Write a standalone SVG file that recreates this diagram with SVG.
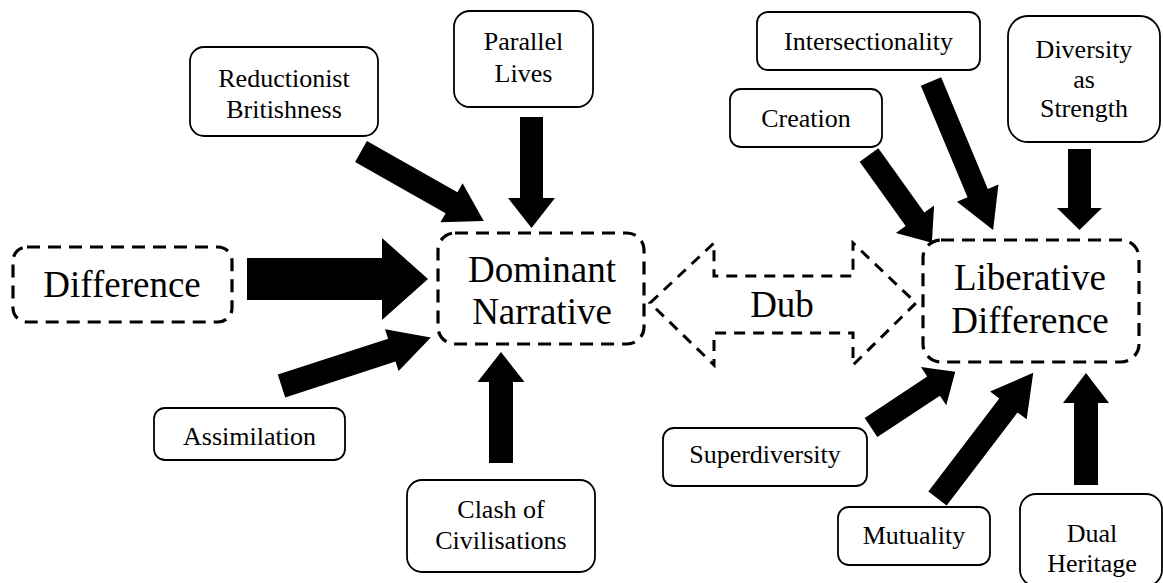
<svg xmlns="http://www.w3.org/2000/svg" width="1163" height="583" viewBox="0 0 1163 583">
<style>
.big{fill:#fff;stroke:#000;stroke-width:3.2;stroke-dasharray:13 8}
.box{fill:#fff;stroke:#000;stroke-width:1.8}
text{font-family:'Liberation Serif',Tinos,'Times New Roman',Times,'DejaVu Serif',serif;fill:#000;text-anchor:middle}
.tb{font-size:37px}
.ts{font-size:26px}
.arr{fill:#000;stroke:none}
.dub{fill:#fff;stroke:#000;stroke-width:3;stroke-dasharray:11 8}
</style>
<rect width="1163" height="583" fill="#fff"/>
<g id="connectors">
<path class="arr" d="M0,-21 H135 V-41 L181,0 L135,41 V21 H0 Z" transform="translate(247,279)"/>
<path class="arr" d="M0,-12 H116 V-22 L157,0 L116,22 V12 H0 Z" transform="translate(281.5,386) rotate(-18)"/>
<polygon class="arr" points="489,463 489,382 477.5,382 501,352 524.5,382 513,382 513,463"/>
<polygon class="arr" points="520,117 543,117 543,198 555,198 531.5,228 508,198 520,198"/>
<path class="arr" d="M0,-12 H104 V-22.5 L141,0 L104,22.5 V12 H0 Z" transform="translate(361,151.5) rotate(29.5)"/>
<path class="arr" d="M0,-11.5 H79 V-23.5 L108,0 L79,23.5 V11.5 H0 Z" transform="translate(869,155) rotate(54.4)"/>
<path class="arr" d="M0,-11 H121 V-22.5 L161,0 L121,22.5 V11 H0 Z" transform="translate(931,81.5) rotate(67.3)"/>
<polygon class="arr" points="1068,149 1091,149 1091,208 1102,208 1079.5,230 1057,208 1068,208"/>
<path class="arr" d="M0,-11.5 H75 V-23 L101,0 L75,23 V11.5 H0 Z" transform="translate(871,427.5) rotate(-33.45)"/>
<path class="arr" d="M0,-11.5 H117 V-23 L158,0 L117,23 V11.5 H0 Z" transform="translate(937.5,498.5) rotate(-52.7)"/>
<polygon class="arr" points="1074,485 1074,403 1063,403 1086,373 1109,403 1098,403 1098,485"/>
</g>
<g id="dub">
<polygon class="dub" points="650,303 714,243 714,276 853,276 853,243 916,303 853,365 853,333 714,333 714,365"/>
<text class="tb" x="782" y="317">Dub</text>
</g>
<g id="difference">
<rect class="big" x="13" y="247" width="219" height="75" rx="14"/>
<text class="tb" x="122" y="297">Difference</text>
</g>
<g id="dominant">
<rect class="big" x="438" y="233" width="206" height="111" rx="17"/>
<text class="tb" x="542" y="282">Dominant</text>
<text class="tb" x="542" y="324">Narrative</text>
</g>
<g id="liberative">
<rect class="big" x="923" y="240" width="216" height="122" rx="18"/>
<text class="tb" x="1030" y="290">Liberative</text>
<text class="tb" x="1030" y="333">Difference</text>
</g>
<g id="reductionist">
<rect class="box" x="190" y="47" width="188" height="89" rx="14"/>
<text class="ts" x="284" y="87">Reductionist</text>
<text class="ts" x="284" y="118">Britishness</text>
</g>
<g id="parallel">
<rect class="box" x="454" y="11" width="139" height="96" rx="16"/>
<text class="ts" x="523.5" y="50">Parallel</text>
<text class="ts" x="523.5" y="82">Lives</text>
</g>
<g id="assimilation">
<rect class="box" x="154" y="408" width="191" height="52" rx="11"/>
<text class="ts" x="249.5" y="445">Assimilation</text>
</g>
<g id="clash">
<rect class="box" x="407" y="480" width="188" height="92" rx="15"/>
<text class="ts" x="501" y="518">Clash of</text>
<text class="ts" x="501" y="549">Civilisations</text>
</g>
<g id="intersectionality">
<rect class="box" x="757" y="12" width="223" height="58" rx="11"/>
<text class="ts" x="868.5" y="50">Intersectionality</text>
</g>
<g id="creation">
<rect class="box" x="730" y="89" width="152" height="58" rx="11"/>
<text class="ts" x="806" y="127">Creation</text>
</g>
<g id="diversity">
<rect class="box" x="1008" y="16" width="152" height="126" rx="20"/>
<text class="ts" x="1084" y="58">Diversity</text>
<text class="ts" x="1084" y="88">as</text>
<text class="ts" x="1084" y="117">Strength</text>
</g>
<g id="superdiversity">
<rect class="box" x="663" y="428" width="204" height="58" rx="11"/>
<text class="ts" x="765" y="463">Superdiversity</text>
</g>
<g id="mutuality">
<rect class="box" x="838" y="507" width="152" height="58" rx="11"/>
<text class="ts" x="914" y="544">Mutuality</text>
</g>
<g id="dual">
<rect class="box" x="1020" y="494" width="142" height="92" rx="16"/>
<text class="ts" x="1092" y="542">Dual</text>
<text class="ts" x="1092" y="572">Heritage</text>
</g>
</svg>
